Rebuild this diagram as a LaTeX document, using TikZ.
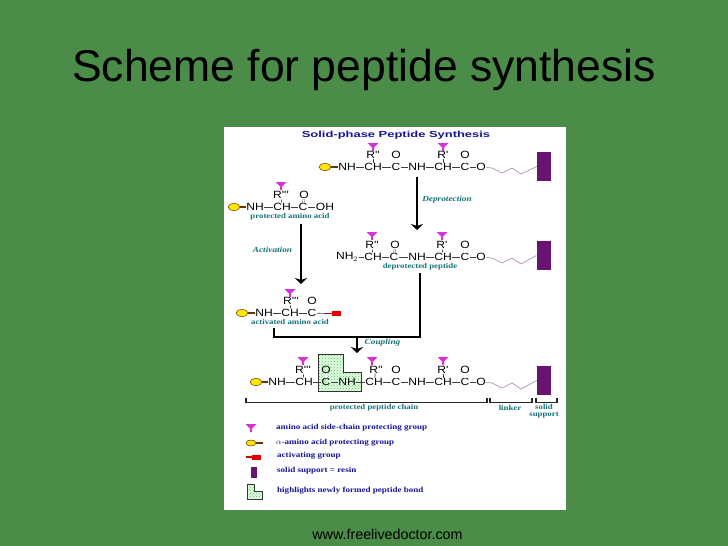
\documentclass[tikz,border=0pt]{standalone}
\usepackage{fontspec}
\setmainfont{Liberation Sans}
\newfontfamily\serifwide[FakeStretch=1.19]{Liberation Serif}
\newfontfamily\titlewide[FakeStretch=1.47]{Liberation Sans}
\newfontfamily\atomwide[FakeStretch=1.15]{Liberation Sans}
\usetikzlibrary{shapes.geometric}
\usetikzlibrary{patterns}
\usetikzlibrary{arrows.meta}
\definecolor{slidegreen}{RGB}{74,140,72}
\definecolor{legendblue}{RGB}{20,20,150}
\definecolor{captionteal}{RGB}{20,115,120}
\definecolor{resinpurple}{RGB}{105,20,115}
\definecolor{funnelpink}{RGB}{215,50,215}
\definecolor{linkerpurple}{RGB}{170,130,170}
\tikzset{
  atom/.style={inner sep=.5pt, font=\atomwide\fontsize{10.5}{10.5}\selectfont},
  bond/.style={draw=black!75, line width=.6pt},
  dbond/.style={draw=black!75, double, double distance=1.1pt, line width=.4pt},
  stem/.style={draw=black!60!orange, line width=1.4pt},
  redstem/.style={draw=red!85!black, line width=1.4pt},
  linker/.style={draw=linkerpurple, line width=.6pt},
  blob/.style={ellipse, draw=black!60!orange, fill=yellow!90!orange, line width=.5pt, minimum width=12pt, minimum height=7pt, inner sep=0pt},
  activetag/.style={fill=red!90!black, minimum width=9pt, minimum height=5pt, inner sep=0pt},
  resin/.style={fill=resinpurple, minimum width=14pt, inner sep=0pt},
  reaction/.style={-{Stealth[length=6pt,width=12pt]}, line width=1.8pt, black},
  plainline/.style={line width=1.6pt, black},
  bracketline/.style={line width=1.2pt, black!85},
  caption/.style={text=captionteal, inner sep=0pt, font=\serifwide\fontsize{7.4}{7.4}\selectfont\bfseries},
  stepname/.style={text=captionteal, inner sep=0pt, font=\serifwide\fontsize{7.8}{7.8}\selectfont\bfseries\itshape},
  legendtext/.style={text=legendblue, inner sep=0pt, anchor=west, font=\serifwide\fontsize{7.6}{7.6}\selectfont\bfseries},
  patch/.style={draw=black!80, line width=.6pt, preaction={fill=green!12!white}, pattern=crosshatch dots, pattern color=green!55!black!60},
  funnel/.pic={\fill[funnelpink] (-5.5,0) -- (5.5,0) -- (1,4.5) -- (1,8) -- (-1,8) -- (-1,4.5) -- cycle;}
}
\begin{document}
\begin{tikzpicture}[x=1pt, y=-1pt]
\fill[slidegreen] (0,0) rectangle (728,546);
\fill[white] (224,127) rectangle (566,510);
\node[inner sep=0pt, font=\fontsize{44.5}{44.5}\selectfont] (heading) at (364,70) {Scheme for peptide synthesis};
\node[inner sep=0pt, font=\fontsize{14.3}{14.3}\selectfont] (site) at (387.5,534) {www.freelivedoctor.com};
\node[text=legendblue, inner sep=0pt, font=\titlewide\fontsize{8.8}{8.8}\selectfont\bfseries] (title) at (396,135) {Solid-phase Peptide Synthesis};

% top chain
\node[blob] (tp) at (325,167) {};
\node[atom] (t1) at (347,167) {NH};
\node[atom] (t2) at (373,167) {CH};
\node[atom] (t3) at (396,167) {C};
\node[atom] (t4) at (417,167) {NH};
\node[atom] (t5) at (443,167) {CH};
\node[atom] (t6) at (465,167) {C};
\node[atom] (t7) at (481,167) {O};
\node[atom] (tr1) at (373,155) {R''};
\node[atom] (tr2) at (443,155) {R'};
\node[atom] (to1) at (396,155) {O};
\node[atom] (to2) at (465,155) {O};
\node[resin, minimum height=29pt] (tres) at (544,166.5) {};
\pic at (373,143) {funnel};
\pic at (443,143) {funnel};
\draw[stem] (tp) -- (t1);
\draw[bond] (t1) -- (t2) -- (t3) -- (t4) -- (t5) -- (t6) -- (t7);
\draw[bond] (tr1) -- (t2);
\draw[bond] (tr2) -- (t5);
\draw[dbond] (to1) -- (t3);
\draw[dbond] (to2) -- (t6);
\draw[linker] (t7) -- ++(11,1) -- ++(10,5) -- ++(10,-5) -- ++(9,6) -- (tres.west);

% protected amino acid
\node[blob] (ap) at (234,207) {};
\node[atom] (a1) at (255,207) {NH};
\node[atom] (a2) at (282,207) {CH};
\node[atom] (a3) at (303,207) {C};
\node[atom] (a4) at (325,207) {OH};
\node[atom] (ar) at (281,195) {R'''};
\node[atom] (ao) at (304,195) {O};
\pic at (281,182) {funnel};
\draw[stem] (ap) -- (a1);
\draw[bond] (a1) -- (a2) -- (a3) -- (a4);
\draw[bond] (ar) -- (a2);
\draw[dbond] (ao) -- (a3);
\node[caption] (acap) at (290,217) {protected amino acid};

% deprotected peptide
\node[atom] (d1) at (347,257) {NH$_2$};
\node[atom] (d2) at (373,257) {CH};
\node[atom] (d3) at (394,257) {C};
\node[atom] (d4) at (417,257) {NH};
\node[atom] (d5) at (443,257) {CH};
\node[atom] (d6) at (465,257) {C};
\node[atom] (d7) at (481,257) {O};
\node[atom] (dr1) at (372,245) {R''};
\node[atom] (dr2) at (442,245) {R'};
\node[atom] (do1) at (395,245) {O};
\node[atom] (do2) at (465,245) {O};
\node[resin, minimum height=29pt] (dres) at (543.5,255.5) {};
\pic at (372,232) {funnel};
\pic at (442,232) {funnel};
\draw[bond] (d1) -- (d2) -- (d3) -- (d4) -- (d5) -- (d6) -- (d7);
\draw[bond] (dr1) -- (d2);
\draw[bond] (dr2) -- (d5);
\draw[dbond] (do1) -- (d3);
\draw[dbond] (do2) -- (d6);
\draw[linker] (d7) -- ++(11,1) -- ++(10,5) -- ++(10,-5) -- ++(9,6) -- (dres.west);
\node[caption] (dcap) at (420,267) {deprotected peptide};

% activated amino acid
\node[blob] (vp) at (242,313) {};
\node[atom] (v1) at (264,313) {NH};
\node[atom] (v2) at (290,313) {CH};
\node[atom] (v3) at (312,313) {C};
\node[activetag] (vt) at (336.5,313.5) {};
\coordinate (vs) at (326,313.5);
\node[atom] (vr) at (291,301) {R'''};
\node[atom] (vo) at (312,301) {O};
\pic at (290,289) {funnel};
\draw[stem] (vp) -- (v1);
\draw[bond] (v1) -- (v2) -- (v3);
\draw[bond] (v3) -- (vs);
\draw[bond] (vr) -- (v2);
\draw[dbond] (vo) -- (v3);
\draw[redstem] (vs) -- (vt);
\node[caption] (vcap) at (290,322) {activated amino acid};

% coupled product
\fill[patch] (318,354) -- (343,354) -- (343,372) -- (361,372) -- (361,391) -- (318,391) -- cycle;
\node[blob] (bp) at (256,382) {};
\node[atom] (b1) at (277,382) {NH};
\node[atom] (b2) at (304,382) {CH};
\node[atom] (b3) at (326,382) {C};
\node[atom] (b4) at (347,382) {NH};
\node[atom] (b5) at (374,382) {CH};
\node[atom] (b6) at (396,382) {C};
\node[atom] (b7) at (417,382) {NH};
\node[atom] (b8) at (443,382) {CH};
\node[atom] (b9) at (465,382) {C};
\node[atom] (b10) at (481,382) {O};
\node[atom] (br1) at (303,369.5) {R'''};
\node[atom] (br2) at (376,369.5) {R''};
\node[atom] (br3) at (443,369.5) {R'};
\node[atom] (bo1) at (326,369.5) {O};
\node[atom] (bo2) at (396,369.5) {O};
\node[atom] (bo3) at (465,369.5) {O};
\node[resin, minimum height=29pt] (bres) at (544,380.5) {};
\pic at (303,357) {funnel};
\pic at (372,357) {funnel};
\pic at (443,357) {funnel};
\draw[stem] (bp) -- (b1);
\draw[bond] (b1) -- (b2) -- (b3) -- (b4) -- (b5) -- (b6) -- (b7) -- (b8) -- (b9) -- (b10);
\draw[bond] (br1) -- (b2);
\draw[bond] (br2) -- (b5);
\draw[bond] (br3) -- (b8);
\draw[dbond] (bo1) -- (b3);
\draw[dbond] (bo2) -- (b6);
\draw[dbond] (bo3) -- (b9);
\draw[linker] (b10) -- ++(11,1) -- ++(10,5) -- ++(10,-5) -- ++(9,6) -- (bres.west);

% reaction arrows
\coordinate (depA) at (417,177);
\coordinate (depB) at (417,230);
\draw[reaction] (depA) -- (depB);
\node[stepname] (dep) at (447,200) {Deprotection};
\coordinate (actA) at (301,224);
\coordinate (actB) at (301,284);
\draw[reaction] (actA) -- (actB);
\node[stepname] (act) at (272.5,250) {Activation};
\coordinate (cplL) at (274,328);
\coordinate (cplR) at (420,273);
\coordinate (cplM) at (357,337);
\coordinate (cplE) at (357,353);
\draw[plainline] (cplL) |- (cplR |- cplM) -- (cplR);
\draw[reaction] (cplM) -- (cplE);
\node[stepname] (cpl) at (382.5,343) {Coupling};

% brackets
\draw[bracketline] (246,398) -- (246,402.5) -- (487,402.5) -- (487,398);
\draw[bracketline] (490,398) -- (490,402.5) -- (532,402.5) -- (532,398);
\draw[bracketline] (536,398) -- (536,402.5) -- (557,402.5) -- (557,398);
\node[caption] (chain) at (374,407.5) {protected peptide chain};
\node[caption] (link) at (510,407.5) {linker};
\node[caption] (solid) at (544,407) {solid};
\node[caption] (supp) at (544,415) {support};

% legend
\pic at (251,424) {funnel};
\node[legendtext] (l1) at (276,428) {amino acid side-chain protecting group};
\node[blob, minimum width=10pt, minimum height=6pt] (l2a) at (251,443) {};
\coordinate (l2b) at (263,443);
\draw[stem] (l2a) -- (l2b);
\node[legendtext] (l2) at (276,442.5) {$\alpha$-amino acid protecting group};
\node[activetag] (l3a) at (256.5,457) {};
\coordinate (l3b) at (246,457);
\draw[redstem] (l3b) -- (l3a);
\node[legendtext] (l3) at (277,456) {activating group};
\node[resin, minimum width=6pt, minimum height=11pt] (l4a) at (254,472.5) {};
\node[legendtext] (l4) at (277,471) {solid support = resin};
\fill[patch] (247,484) -- (254,484) -- (254,491) -- (262,491) -- (262,499) -- (247,499) -- cycle;
\node[legendtext] (l5) at (277,491) {highlights newly formed peptide bond};
\end{tikzpicture}
\end{document}
